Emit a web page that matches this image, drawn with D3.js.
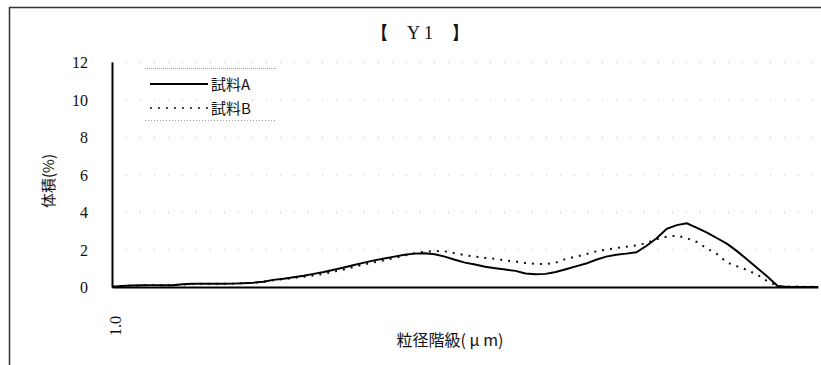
<!DOCTYPE html>
<html><head><meta charset="utf-8">
<script src="https://cdn.jsdelivr.net/npm/d3@7"></script>
<style>body{margin:0;background:#fff}svg{display:block}</style>
</head><body>
<script>
const classes = d3.range(0, 71);
const xTickLabels = [{i: 0, label: "1.0"}];
const yTicks = [0, 2, 4, 6, 8, 10, 12];
const seriesNames = ["試料A", "試料B"];
const seriesA = [0.02,0.05,0.08,0.09,0.1,0.1,0.1,0.15,0.17,0.17,0.17,0.17,0.18,0.2,0.23,0.28,0.38,0.44,0.52,0.6,0.7,0.8,0.92,1.04,1.17,1.3,1.42,1.52,1.62,1.72,1.78,1.8,1.75,1.62,1.45,1.3,1.2,1.08,1.0,0.93,0.86,0.72,0.68,0.7,0.8,0.95,1.1,1.25,1.45,1.62,1.72,1.78,1.85,2.2,2.6,3.1,3.3,3.4,3.15,2.9,2.6,2.3,1.9,1.45,1.0,0.55,0.05,0,0,0,0];
const seriesB = [0.02,0.05,0.08,0.09,0.1,0.1,0.1,0.13,0.16,0.17,0.17,0.17,0.18,0.2,0.22,0.27,0.36,0.42,0.48,0.55,0.62,0.7,0.82,0.93,1.08,1.2,1.32,1.43,1.55,1.68,1.8,1.88,1.92,1.9,1.8,1.7,1.62,1.55,1.5,1.42,1.36,1.28,1.23,1.22,1.3,1.5,1.62,1.75,1.9,2.0,2.08,2.15,2.22,2.35,2.55,2.68,2.74,2.6,2.4,2.05,1.75,1.3,1.1,0.9,0.65,0.3,0.05,0.03,0.02,0.02,0.02];

const W = 821, H = 365;
const svg = d3.select("body").append("svg").attr("width", W).attr("height", H);
const serif = "'Liberation Serif','DejaVu Serif',serif";
const jp = "'Noto Sans CJK JP','Noto Sans CJK SC',sans-serif";

// outer frame (top & left)
svg.append("path").attr("d", `M9.5,${H} V7.5 H${W}`).attr("fill", "none").attr("stroke", "#333").attr("stroke-width", 1.5);

const x = d3.scaleLinear().domain([0, 70]).range([112, 818]);
const y = d3.scaleLinear().domain([0, 12]).range([287, 62]);

// grid
svg.append("g").selectAll("line").data(yTicks.filter(d => d > 0)).join("line")
  .attr("x1", 112).attr("x2", 818).attr("y1", d => y(d) + 0.5).attr("y2", d => y(d) + 0.5)
  .attr("stroke", "#bbb").attr("stroke-width", 1).attr("stroke-dasharray", "1,13");

// y axis
const yAxis = d3.axisLeft(y).tickValues(yTicks).tickSize(0).tickPadding(24).tickFormat(d3.format("d"));
const gy = svg.append("g").attr("transform", "translate(112,0)").call(yAxis);
gy.select(".domain").attr("stroke", "#000").attr("stroke-width", 2);
gy.selectAll("text").attr("font-family", serif).attr("font-size", 16).attr("fill", "#111").attr("dy", "0.35em");

// x axis
const xAxis = d3.axisBottom(x).tickValues(xTickLabels.map(d => d.i)).tickSize(0).tickFormat(d => xTickLabels.find(t => t.i === d).label);
const gx = svg.append("g").attr("transform", "translate(0,287)").call(xAxis);
gx.select(".domain").attr("stroke", "#000").attr("stroke-width", 2);
gx.selectAll("text").attr("font-family", serif).attr("font-size", 16).attr("fill", "#111")
  .attr("transform", "translate(3,39) rotate(-90)").attr("text-anchor", "middle").attr("dy", "0.35em").attr("y", 0);

// lines
const line = d3.line().x((d, i) => x(classes[i])).y(d => y(d)).curve(d3.curveLinear);
svg.append("path").datum(seriesB).attr("d", line).attr("fill", "none").attr("stroke", "#111").attr("stroke-width", 2).attr("stroke-dasharray", "2,6");
svg.append("path").datum(seriesA).attr("d", line).attr("fill", "none").attr("stroke", "#000").attr("stroke-width", 2);

// title
svg.append("text").attr("x", 420).attr("y", 39).attr("text-anchor", "middle").attr("font-family", serif)
  .attr("font-size", 18).attr("fill", "#111").text("【　Y 1　】");

// axis titles
svg.append("text").attr("transform", "translate(54,181) rotate(-90)").attr("text-anchor", "middle")
  .attr("font-family", jp).attr("font-size", 15).attr("fill", "#111").text("体積(%)");
svg.append("text").attr("x", 450).attr("y", 346).attr("text-anchor", "middle")
  .attr("font-family", jp).attr("font-size", 16).attr("fill", "#111").text("粒径階級( μ m)");

// legend
const lg = svg.append("g");
lg.append("line").attr("x1", 145).attr("x2", 276).attr("y1", 68.5).attr("y2", 68.5).attr("stroke", "#999").attr("stroke-dasharray", "1,1");
lg.append("line").attr("x1", 145).attr("x2", 276).attr("y1", 120.5).attr("y2", 120.5).attr("stroke", "#999").attr("stroke-dasharray", "1,2");
const ly = [84, 108];
lg.append("line").attr("x1", 150).attr("x2", 208).attr("y1", ly[0]).attr("y2", ly[0]).attr("stroke", "#000").attr("stroke-width", 2);
lg.append("line").attr("x1", 150).attr("x2", 208).attr("y1", ly[1]).attr("y2", ly[1]).attr("stroke", "#111").attr("stroke-width", 1.5).attr("stroke-dasharray", "2,6");
lg.selectAll("text.lg").data(seriesNames).join("text").attr("class", "lg")
  .attr("x", 211).attr("y", (d, i) => ly[i] + 6).attr("font-family", jp).attr("font-size", 15).attr("fill", "#111").text(d => d);
</script>
</body></html>
